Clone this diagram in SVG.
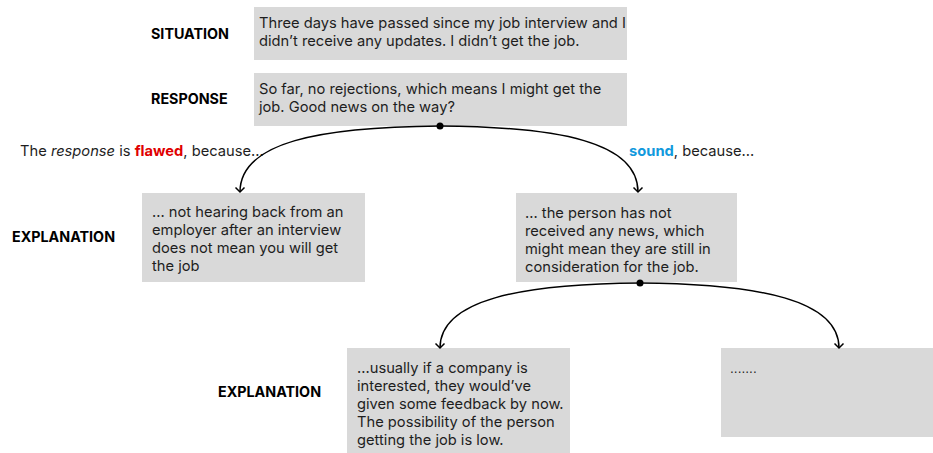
<svg xmlns="http://www.w3.org/2000/svg" width="933" height="453" viewBox="0 0 933 453">
<defs>
<style>
.box{fill:#d9d9d9}
.t{font-family:Inter,"Liberation Sans",sans-serif;font-size:14.7px;fill:#1e1e1e}
.lbl{font-family:Inter,"Liberation Sans",sans-serif;font-size:14.3px;font-weight:700;fill:#000}
.edge{fill:none;stroke:#000;stroke-width:1.5}
.b{font-weight:700}
</style>
<marker id="arr" markerWidth="12" markerHeight="12" refX="6" refY="6" orient="auto" markerUnits="userSpaceOnUse">
<path d="M1.5,1.5 L6,6 L1.5,10.5" fill="none" stroke="#000" stroke-width="1.5"/>
</marker>
</defs>
<rect width="933" height="453" fill="#fff"/>
<g id="situation-label"><text class="lbl" x="151" y="39">SITUATION</text></g>
<g id="situation">
<rect class="box" x="254" y="7" width="373" height="53"/>
<text class="t" x="259" y="28">Three days have passed since my job interview and I</text>
<text class="t" x="259" y="46">didn’t receive any updates. I didn’t get the job.</text>
</g>
<g id="response-label"><text class="lbl" x="151" y="104">RESPONSE</text></g>
<g id="response">
<rect class="box" x="254" y="73" width="373" height="53"/>
<text class="t" x="259" y="94">So far, no rejections, which means I might get the</text>
<text class="t" x="259" y="112">job. Good news on the way?</text>
</g>
<g id="flawed-label"><text class="t" x="20" y="156">The <tspan font-style="italic">response</tspan> is <tspan class="b" fill="#e00000">flawed</tspan>, because...</text></g>
<g id="sound-label"><text class="t" x="629" y="156"><tspan class="b" fill="#1199dd">sound</tspan>, because...</text></g>
<g id="explanation-label-1"><text class="lbl" x="12" y="242">EXPLANATION</text></g>
<g id="explanation-flawed">
<rect class="box" x="142" y="193" width="223" height="89"/>
<text class="t" x="152" y="217">... not hearing back from an</text>
<text class="t" x="152" y="235">employer after an interview</text>
<text class="t" x="152" y="253">does not mean you will get</text>
<text class="t" x="152" y="271">the job</text>
</g>
<g id="explanation-sound">
<rect class="box" x="516" y="193" width="221" height="89"/>
<text class="t" x="525" y="218">... the person has not</text>
<text class="t" x="525" y="236">received any news, which</text>
<text class="t" x="525" y="254">might mean they are still in</text>
<text class="t" x="525" y="272">consideration for the job.</text>
</g>
<g id="explanation-label-2"><text class="lbl" x="218" y="397">EXPLANATION</text></g>
<g id="explanation-low">
<rect class="box" x="347" y="348" width="223" height="105"/>
<text class="t" x="357" y="373">...usually if a company is</text>
<text class="t" x="357" y="391">interested, they would’ve</text>
<text class="t" x="357" y="409">given some feedback by now.</text>
<text class="t" x="357" y="427">The possibility of the person</text>
<text class="t" x="357" y="445">getting the job is low.</text>
</g>
<g id="explanation-other">
<rect class="box" x="721" y="348" width="212" height="89"/>
<text x="730" y="373" font-family="'DejaVu Sans',sans-serif" font-size="12" fill="#1e1e1e">.......</text>
</g>
<g id="connectors">
<path class="edge" d="M440,126 C320,127 240,142 240,192" marker-end="url(#arr)"/>
<path class="edge" d="M440,126 C560,127 638,142 638,192" marker-end="url(#arr)"/>
<path class="edge" d="M640,283 C520,284 440,300 440,348" marker-end="url(#arr)"/>
<path class="edge" d="M640,283 C760,284 839,300 839,348" marker-end="url(#arr)"/>
<circle cx="440" cy="126" r="3.5" fill="#000"/>
<circle cx="640" cy="283" r="3.5" fill="#000"/>
</g>
</svg>
